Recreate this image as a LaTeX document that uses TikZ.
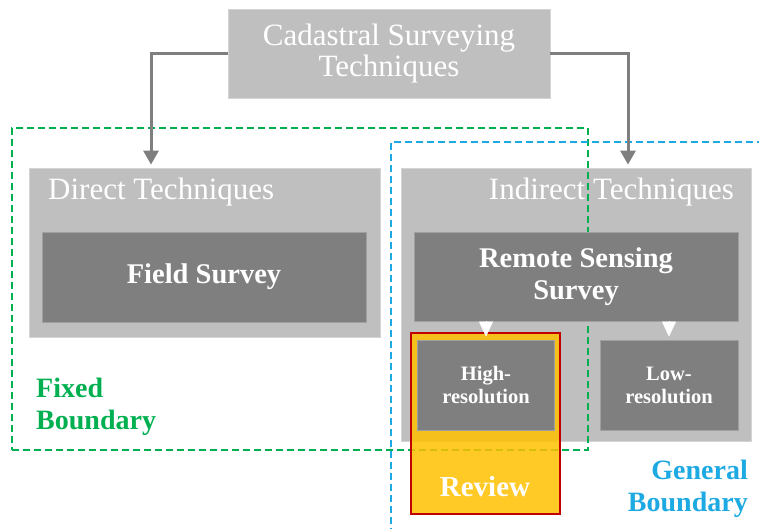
\documentclass[tikz,border=0pt]{standalone}
\usepackage{fontspec}
\setmainfont{Liberation Serif}
\usetikzlibrary{arrows.meta}
\definecolor{lgray}{HTML}{BFBFBF}
\definecolor{lgrayedge}{HTML}{D4D4D4}
\definecolor{dgray}{HTML}{7F7F7F}
\definecolor{dgrayedge}{HTML}{A0A0A0}
\definecolor{fixgreen}{HTML}{00B050}
\definecolor{genblue}{HTML}{1DA9E1}
\definecolor{revyellow}{HTML}{FFC000}
\definecolor{revred}{HTML}{C00000}
\begin{document}
\begin{tikzpicture}[x=1pt,y=-1pt,
  lightbox/.style={fill=lgray, draw=lgrayedge, line width=0.8pt, inner sep=0pt},
  darkbox/.style={fill=dgray, draw=dgrayedge, line width=0.8pt, inner sep=0pt},
  regtext/.style={text=white, font=\fontsize{31}{31}\selectfont, align=center},
  boldtext/.style={text=white, font=\bfseries\fontsize{28.5}{32}\selectfont, align=center},
  smalltext/.style={text=white, font=\bfseries\fontsize{20.5}{23}\selectfont, align=center},
  greenframe/.style={draw=fixgreen, line width=2pt, dash pattern=on 7pt off 4pt, inner sep=0pt},
  blueframe/.style={draw=genblue, line width=2pt, dash pattern=on 7pt off 4pt},
  grayarrow/.style={draw=dgray, line width=3pt, -{Triangle[width=15pt,length=14pt]}},
  whitearrow/.style={draw=white, line width=0.3pt, fill=white, -{Triangle[width=14pt,length=15pt]}, shorten >=3pt},
  labeltext/.style={font=\bfseries\fontsize{28}{32}\selectfont, inner sep=0pt}
]
\useasboundingbox (0,0) rectangle (759,528);

% top node
\node[lightbox, regtext, minimum width=322pt, minimum height=89pt] (top) at (389,53.5) {Cadastral Surveying\\Techniques};

% light boxes
\node[lightbox, minimum width=351pt, minimum height=169pt] (direct) at (204.5,252.5) {};
\node[lightbox, minimum width=350pt, minimum height=273pt] (indirect) at (576,304.5) {};
\node[regtext, anchor=west, inner sep=0pt] (dtitle) at (48,192) {Direct Techniques};
\node[regtext, anchor=east, inner sep=0pt] (ititle) at (734,192) {Indirect Techniques};

% boundary frames
\node[greenframe, minimum width=576pt, minimum height=322pt] (fixedframe) at (300,289) {};
\coordinate (bluecorner) at (391,142);
\draw[blueframe] (775,142) -- (bluecorner) -- (391,540);

% dark boxes
\node[darkbox, boldtext, minimum width=324pt, minimum height=90pt] (field) at (204,277) {Field Survey};
\node[darkbox, boldtext, minimum width=324pt, minimum height=89pt] (remote) at (576,276.5) {Remote Sensing\\Survey};

% review highlight
\node[fill=revyellow, fill opacity=0.85, draw=revred, line width=2pt, minimum width=149pt, minimum height=181pt, inner sep=0pt] (review) at (485.5,423.5) {};
\node[boldtext, font=\bfseries\fontsize{29}{32}\selectfont, inner sep=0pt] (reviewtext) at (485,487) {Review};

\node[darkbox, smalltext, minimum width=137pt, minimum height=90pt] (high) at (486,385) {High-\\resolution};
\node[darkbox, smalltext, minimum width=138pt, minimum height=90pt] (low) at (669,385) {Low-\\resolution};

% connectors
\draw[grayarrow] (top.west) -| ([xshift=-53.5pt,yshift=3pt]direct.north);
\draw[grayarrow] (top.east) -| ([xshift=52pt,yshift=3pt]indirect.north);
\draw[whitearrow] (high.north |- remote.south) -- (high.north);
\draw[whitearrow] (low.north |- remote.south) -- (low.north);

% boundary labels
\node[labeltext, text=fixgreen, anchor=west, align=left] (fixedlabel) at (36,407) {Fixed\\Boundary};
\node[labeltext, text=genblue, anchor=east, align=right] (generallabel) at (748,489) {General\\Boundary};
\end{tikzpicture}
\end{document}
